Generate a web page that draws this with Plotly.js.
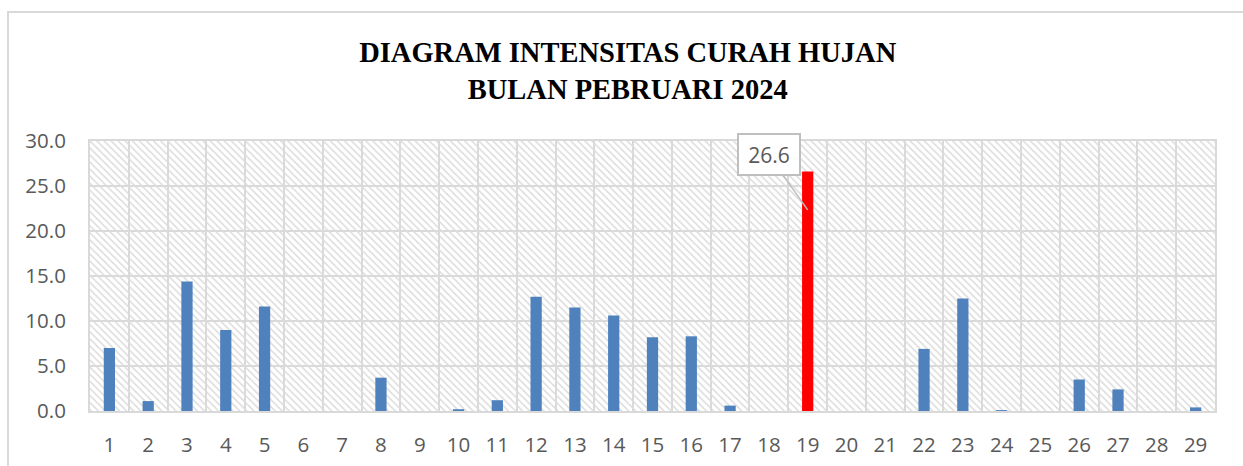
<!DOCTYPE html>
<html>
<head>
<meta charset="utf-8">
<script src="https://cdn.plot.ly/plotly-3.0.1.min.js"></script>
<style>
  html, body { margin: 0; padding: 0; background: #ffffff; overflow: hidden; }
  #frame { position: absolute; left: 7px; top: 11px; width: 1260px; height: 480px;
           border: 2px solid #d9d9d9; box-sizing: border-box; }
  #chart { position: absolute; left: 0; top: 0; width: 1243px; height: 466px; }
</style>
</head>
<body>
<div id="frame"></div>
<div id="chart"></div>
<script>
// Data
const days = ['1','2','3','4','5','6','7','8','9','10','11','12','13','14','15','16','17','18','19','20','21','22','23','24','25','26','27','28','29'];
const rainfall = [7.0, 1.1, 14.4, 9.0, 11.6, 0, 0, 3.7, 0, 0.2, 1.2, 12.7, 11.5, 10.6, 8.2, 8.3, 0.6, 0, 26.6, 0, 0, 6.9, 12.5, 0.1, 0, 3.5, 2.4, 0, 0.4];
const yMax = 30;
const titleLines = ['DIAGRAM INTENSITAS CURAH HUJAN', 'BULAN PEBRUARI 2024'];

const maxVal = Math.max(...rainfall);
const maxIdx = rainfall.indexOf(maxVal);
const barColors = rainfall.map((v, i) => i === maxIdx ? '#FF0000' : '#4F81BD');

const hatch = {
  x: days,
  y: days.map(() => yMax),
  type: 'bar',
  width: 1,
  marker: {
    color: 'rgba(0,0,0,0)',
    line: { width: 0 },
    pattern: { shape: '\\', fgcolor: '#dcdcdc', bgcolor: 'rgba(0,0,0,0)', size: 5, solidity: 0.3 }
  },
  hoverinfo: 'skip',
  showlegend: false
};

const bars = {
  x: days,
  y: rainfall,
  type: 'bar',
  width: 0.29,
  marker: { color: barColors, line: { width: 0 } },
  showlegend: false
};

const layout = {
  width: 1243,
  height: 466,
  margin: { l: 90, r: 28, t: 141, b: 55 },
  paper_bgcolor: 'rgba(0,0,0,0)',
  plot_bgcolor: 'rgba(0,0,0,0)',
  barmode: 'overlay',
  title: {
    text: '<b>' + titleLines.join('<br>') + '</b>',
    font: { family: 'Liberation Serif, serif', size: 28.5, color: '#000000' },
    x: 0.505, xanchor: 'center',
    y: 0.867, yanchor: 'middle'
  },
  xaxis: {
    type: 'category',
    tickson: 'boundaries',
    showgrid: true,
    gridcolor: '#d9d9d9',
    gridwidth: 2,
    showline: true,
    linecolor: '#d9d9d9',
    linewidth: 2,
    mirror: true,
    ticks: '',
    ticklabelstandoff: 14,
    tickfont: { family: 'Open Sans, sans-serif', size: 20.5, color: '#595959' },
    zeroline: false,
    fixedrange: true
  },
  yaxis: {
    range: [0, yMax],
    dtick: 5,
    tickformat: '.1f',
    showgrid: true,
    gridcolor: '#d9d9d9',
    gridwidth: 2,
    showline: true,
    linecolor: '#d9d9d9',
    linewidth: 2,
    mirror: true,
    zeroline: false,
    ticks: '',
    ticklabelstandoff: 18,
    tickfont: { family: 'Open Sans, sans-serif', size: 20.5, color: '#595959' },
    fixedrange: true
  },
  annotations: [{
    x: maxIdx,
    y: maxVal * 0.84,
    xref: 'x', yref: 'y',
    text: maxVal.toFixed(1),
    showarrow: true,
    arrowhead: 0,
    arrowwidth: 1.5,
    arrowcolor: '#bfbfbf',
    ax: -39,
    ay: -55,
    width: 58,
    height: 37,
    bgcolor: '#ffffff',
    bordercolor: '#bfbfbf',
    borderwidth: 2,
    font: { family: 'Open Sans, sans-serif', size: 21, color: '#595959' }
  }]
};

Plotly.newPlot('chart', [hatch, bars], layout, { displayModeBar: false, staticPlot: true });
</script>
</body>
</html>
